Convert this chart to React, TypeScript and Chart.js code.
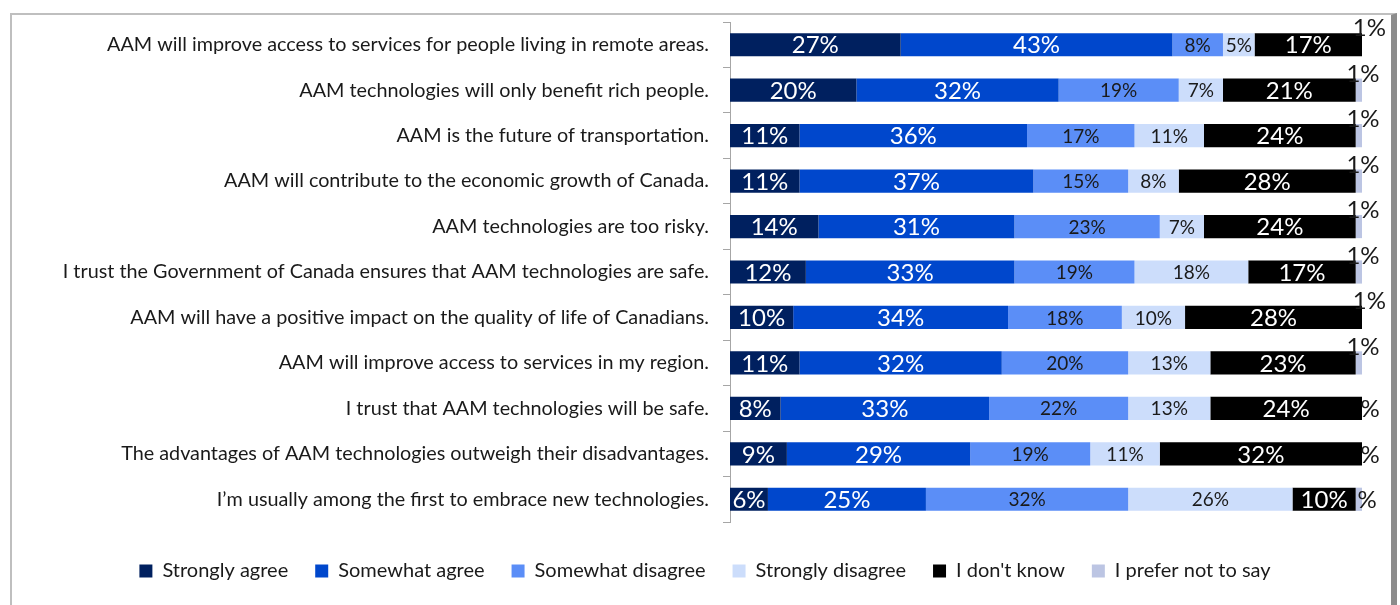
import React, { useEffect, useRef } from "react";
import { Chart, registerables } from "chart.js";

Chart.register(...registerables);

const categories = [
  "AAM will improve access to services for people living in remote areas.",
  "AAM technologies will only benefit rich people.",
  "AAM is the future of transportation.",
  "AAM will contribute to the economic growth of Canada.",
  "AAM technologies are too risky.",
  "I trust the Government of Canada ensures that AAM technologies are safe.",
  "AAM will have a positive impact on the quality of life of Canadians.",
  "AAM will improve access to services in my region.",
  "I trust that AAM technologies will be safe.",
  "The advantages of AAM technologies outweigh their disadvantages.",
  "I\u2019m usually among the first to embrace new technologies.",
];

const stronglyAgree = [27, 20, 11, 11, 14, 12, 10, 11, 8, 9, 6];
const somewhatAgree = [43, 32, 36, 37, 31, 33, 34, 32, 33, 29, 25];
const somewhatDisagree = [8, 19, 17, 15, 23, 19, 18, 20, 22, 19, 32];
const stronglyDisagree = [5, 7, 11, 8, 7, 18, 10, 13, 13, 11, 26];
const dontKnow = [17, 21, 24, 28, 24, 17, 28, 23, 24, 32, 10];
const preferNot = [1, 1, 1, 1, 1, 1, 1, 1, 0.5, 0.5, 1];
const preferNotLabels = ["1%", "1%", "1%", "1%", "1%", "1%", "1%", "1%", "%", "%", "%"];

const seriesNames = [
  "Strongly agree",
  "Somewhat agree",
  "Somewhat disagree",
  "Strongly disagree",
  "I don't know",
  "I prefer not to say",
];
const seriesColors = ["#00205F", "#0047CC", "#5B8EF7", "#CCDDFB", "#000000", "#BCC5E3"];
const labelColors = ["#FFFFFF", "#FFFFFF", "#1a1a1a", "#1a1a1a", "#FFFFFF", "#1a1a1a"];
const labelSizes = [24, 24, 19, 19, 24, 24];

const FONT = "Lato, 'Open Sans', sans-serif";

const labelPlugin = {
  id: "barLabels",
  afterDatasetsDraw(chart: any) {
    const ctx = chart.ctx;
    ctx.save();
    chart.data.datasets.forEach((ds: any, i: number) => {
      const meta = chart.getDatasetMeta(i);
      meta.data.forEach((bar: any, j: number) => {
        const v = ds.data[j];
        ctx.fillStyle = labelColors[i];
        ctx.font = `${labelSizes[i]}px ${FONT}`;
        ctx.textBaseline = "middle";
        ctx.textAlign = "center";
        if (i === 5) {
          const t = preferNotLabels[j];
          if (t === "1%") {
            ctx.fillText(t, bar.x + 1, bar.y - 16);
          } else {
            ctx.fillText(t, bar.x + 5, bar.y + 1);
          }
        } else {
          ctx.fillText(`${v}%`, (bar.x + bar.base) / 2, bar.y + 1);
        }
      });
    });
    ctx.restore();
  },
};

export default function App() {
  const ref = useRef<HTMLCanvasElement>(null);
  useEffect(() => {
    if (!ref.current) return;
    const values = [stronglyAgree, somewhatAgree, somewhatDisagree, stronglyDisagree, dontKnow, preferNot];
    const chart = new Chart(ref.current, {
      type: "bar",
      data: {
        labels: categories,
        datasets: values.map((d, i) => ({
          label: seriesNames[i],
          data: d,
          backgroundColor: seriesColors[i],
          borderWidth: 0,
          barPercentage: 0.51,
          categoryPercentage: 1,
        })),
      },
      options: {
        indexAxis: "y",
        animation: false,
        responsive: false,
        maintainAspectRatio: false,
        layout: { padding: { left: 36, right: 29, top: 7, bottom: 14 } },
        scales: {
          x: {
            stacked: true,
            min: 0,
            max: 100,
            display: true,
            ticks: { display: false },
            grid: { display: false },
            border: { display: false },
            afterFit(scale: any) {
              scale.height = 12;
            },
          },
          y: {
            stacked: true,
            afterFit(scale: any) {
              scale.width = 682;
              scale.paddingTop = 0;
              scale.paddingBottom = 0;
            },
            grid: {
              offset: true,
              drawOnChartArea: false,
              drawTicks: true,
              tickLength: 7,
              color: "#A6A6A6",
            },
            border: { display: true, color: "#A6A6A6", width: 1 },
            ticks: {
              padding: 14,
              color: "#1a1a1a",
              font: { family: FONT, size: 19.8 },
            },
          },
        },
        plugins: {
          legend: {
            position: "bottom",
            labels: {
              boxWidth: 13,
              boxHeight: 13,
              padding: 27,
              color: "#1a1a1a",
              font: { family: FONT, size: 20 },
            },
          },
          tooltip: { enabled: false },
        },
      },
      plugins: [labelPlugin],
    });
    return () => chart.destroy();
  }, []);
  return (
    <div
      style={{
        position: "absolute",
        left: 10,
        top: 13,
        width: 1379,
        height: 640,
        borderLeft: "2px solid #BFBFBF",
        borderTop: "2px solid #BFBFBF",
        borderRight: "6px solid #8C8C8C",
        background: "#fff",
      }}
    >
      <canvas ref={ref} width={1379} height={590} style={{ display: "block" }} />
    </div>
  );
}
